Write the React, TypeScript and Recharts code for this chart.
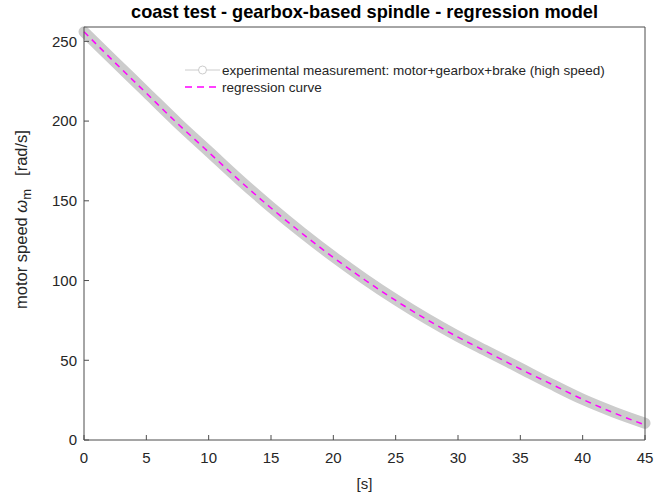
import React from 'react';
import {
  LineChart,
  Line,
  XAxis,
  YAxis,
  Legend,
} from 'recharts';

// time [s]
const time = [0, 2.5, 5, 7.5, 10, 12.5, 15, 17.5, 20, 22.5, 25, 27.5, 30, 32.5, 35, 37.5, 40, 42.5, 45];
// measured motor speed [rad/s]
const measured = [256, 237, 218, 199, 181, 163, 146, 130, 115, 101, 88, 76, 65, 55, 45, 35, 25.5, 17.5, 10.5];
// regression model [rad/s]
const regression = [256, 236.5, 217.5, 198.5, 180.5, 162.5, 145.5, 129.5, 114.5, 100.5, 87.5, 75.5, 64.5, 54.5, 44.5, 35, 25.5, 17, 9.5];

const xTicks = [0, 5, 10, 15, 20, 25, 30, 35, 40, 45];
const yTicks = [0, 50, 100, 150, 200, 250];

const title = 'coast test - gearbox-based spindle - regression model';
const measuredName = 'experimental measurement: motor+gearbox+brake (high speed)';
const regressionName = 'regression curve';

const data = time.map((t, i) => ({ t, measured: measured[i], regression: regression[i] }));

const FONT = "'Liberation Sans', Arial, Helvetica, sans-serif";
const AXIS = '#4d4d4d';
const TEXT = '#262626';
const GRAY = '#cccccc';
const MAGENTA = '#ff00ff';

const LegendBox = () => (
  <svg width={440} height={40} style={{ display: 'block' }}>
    <g fontFamily={FONT} fontSize={13.5} fill={TEXT}>
      <line x1={1} x2={36} y1={11} y2={11} stroke={GRAY} strokeWidth={1} />
      <circle cx={18.5} cy={11} r={4} fill="#fff" stroke={GRAY} strokeWidth={1} />
      <text x={38} y={11} dominantBaseline="central">{measuredName}</text>
      <line x1={1} x2={36} y1={28} y2={28} stroke={MAGENTA} strokeWidth={1.5} strokeDasharray="7 5" />
      <text x={38} y={28} dominantBaseline="central">{regressionName}</text>
    </g>
  </svg>
);

const YLabel = (props: any) => {
  const { viewBox } = props;
  const cx = viewBox.x + 21;
  const cy = viewBox.y + viewBox.height / 2 - 14;
  return (
    <text
      x={cx}
      y={cy}
      transform={`rotate(-90 ${cx} ${cy})`}
      textAnchor="middle"
      dominantBaseline="central"
      fontFamily={FONT}
      fontSize={16.5}
      fill={TEXT}
    >
      motor speed <tspan fontStyle="italic">ω</tspan>
      <tspan dy={5} fontSize={13}>m</tspan>
      <tspan dy={-5} dx={13}>[rad/s]</tspan>
    </text>
  );
};

const tickStyle = { fontFamily: FONT, fontSize: 15, fill: TEXT };

export default function App() {
  return (
    <div style={{ position: 'absolute', left: 0, top: 0, width: 658, height: 497, background: '#fff' }}>
      <LineChart
        width={658}
        height={497}
        data={data}
        margin={{ top: 26, right: 12, bottom: 0, left: 0 }}
      >
        <XAxis
          dataKey="t"
          type="number"
          domain={[0, 45]}
          ticks={xTicks}
          height={57}
          stroke={AXIS}
          tickSize={-5}
          tickMargin={17}
          tick={tickStyle}
          label={{ value: '[s]', position: 'insideBottom', offset: 8, style: { fontFamily: FONT, fontSize: 15, fill: TEXT } }}
        />
        <XAxis
          xAxisId="top"
          dataKey="t"
          type="number"
          orientation="top"
          domain={[0, 45]}
          ticks={xTicks}
          height={1}
          stroke={AXIS}
          tickSize={-5}
          tick={false}
          label={{ value: title, position: 'top', offset: 8, style: { fontFamily: FONT, fontSize: 18.2, fontWeight: 'bold', fill: '#000' } }}
        />
        <YAxis
          type="number"
          domain={[0, 259]}
          ticks={yTicks}
          width={84}
          stroke={AXIS}
          tickSize={-5}
          tickMargin={12}
          tick={tickStyle}
          label={<YLabel />}
        />
        <YAxis
          yAxisId="right"
          type="number"
          orientation="right"
          domain={[0, 259]}
          ticks={yTicks}
          width={1}
          stroke={AXIS}
          tickSize={-5}
          tick={false}
        />
        <Legend
          layout="vertical"
          align="center"
          verticalAlign="middle"
          wrapperStyle={{ left: 184, top: 59, width: 440 }}
          content={() => <LegendBox />}
        />
        <Line
          dataKey="measured"
          name={measuredName}
          type="monotone"
          stroke={GRAY}
          strokeWidth={11}
          strokeLinecap="round"
          dot={false}
          activeDot={false}
          isAnimationActive={false}
        />
        <Line
          dataKey="regression"
          name={regressionName}
          type="monotone"
          stroke={MAGENTA}
          strokeWidth={1.5}
          strokeDasharray="6 5"
          dot={false}
          activeDot={false}
          isAnimationActive={false}
        />
      </LineChart>
    </div>
  );
}
